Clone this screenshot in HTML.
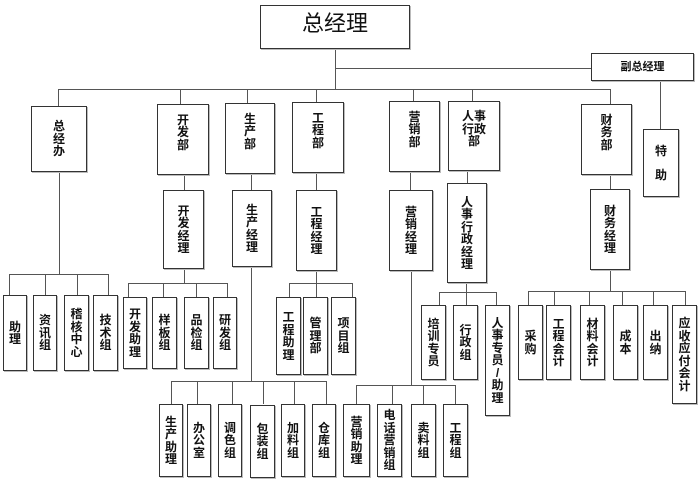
<!DOCTYPE html>
<html><head><meta charset="utf-8"><style>
body{margin:0;width:700px;height:485px;background:#fff;position:relative;overflow:hidden;font-family:"Liberation Sans","Noto Sans CJK SC",sans-serif}
.b{position:absolute;box-sizing:border-box;border:1.5px solid #333;background:#fff;display:flex;flex-direction:column;align-items:center;justify-content:center;font-weight:bold;font-size:12px;line-height:12.5px;color:#111;text-align:center;box-shadow:1px 1px 0 #bbb}
.d{padding-bottom:14px}
.h{position:absolute;height:0;border-top:1.5px solid #555}
.v{position:absolute;width:0;border-left:1.5px solid #555}
</style></head><body>
<!-- lines -->
<div class="v" style="left:335px;top:48px;height:41px"></div>
<div class="h" style="left:335px;top:68px;width:256px"></div>
<div class="h" style="left:58px;top:89px;width:553px"></div>
<div class="v" style="left:660px;top:80px;height:49px"></div>
<div class="v" style="left:58px;top:89px;height:17px"></div>
<div class="v" style="left:180px;top:89px;height:15px"></div>
<div class="v" style="left:247px;top:89px;height:14px"></div>
<div class="v" style="left:316px;top:89px;height:13px"></div>
<div class="v" style="left:413px;top:89px;height:12px"></div>
<div class="v" style="left:472px;top:89px;height:12px"></div>
<div class="v" style="left:610px;top:89px;height:15px"></div>
<div class="v" style="left:184px;top:174px;height:16px"></div>
<div class="v" style="left:251px;top:173px;height:17px"></div>
<div class="v" style="left:316px;top:172px;height:18px"></div>
<div class="v" style="left:410px;top:171px;height:19px"></div>
<div class="v" style="left:467px;top:170px;height:13px"></div>
<div class="v" style="left:610px;top:174px;height:15px"></div>
<!-- 总经办 -->
<div class="v" style="left:59px;top:171px;height:103px"></div>
<div class="h" style="left:9px;top:274px;width:99px"></div>
<div class="v" style="left:9px;top:274px;height:21px"></div>
<div class="v" style="left:45px;top:274px;height:21px"></div>
<div class="v" style="left:77px;top:274px;height:21px"></div>
<div class="v" style="left:108px;top:274px;height:21px"></div>
<!-- 开发 -->
<div class="v" style="left:184px;top:268px;height:15px"></div>
<div class="h" style="left:128px;top:283px;width:99px"></div>
<div class="v" style="left:128px;top:283px;height:14px"></div>
<div class="v" style="left:163px;top:283px;height:14px"></div>
<div class="v" style="left:196px;top:283px;height:14px"></div>
<div class="v" style="left:227px;top:283px;height:14px"></div>
<!-- 生产 -->
<div class="v" style="left:251px;top:266px;height:115px"></div>
<div class="h" style="left:171px;top:381px;width:155px"></div>
<div class="v" style="left:171px;top:381px;height:23px"></div>
<div class="v" style="left:197px;top:381px;height:23px"></div>
<div class="v" style="left:232px;top:381px;height:23px"></div>
<div class="v" style="left:263px;top:381px;height:23px"></div>
<div class="v" style="left:294px;top:381px;height:23px"></div>
<div class="v" style="left:326px;top:381px;height:23px"></div>
<!-- 工程 -->
<div class="v" style="left:316px;top:270px;height:13px"></div>
<div class="h" style="left:289px;top:283px;width:63px"></div>
<div class="v" style="left:289px;top:283px;height:14px"></div>
<div class="v" style="left:316px;top:283px;height:14px"></div>
<div class="v" style="left:352px;top:283px;height:14px"></div>
<!-- 营销 -->
<div class="v" style="left:411px;top:270px;height:115px"></div>
<div class="h" style="left:356px;top:385px;width:99px"></div>
<div class="v" style="left:356px;top:385px;height:19px"></div>
<div class="v" style="left:392px;top:385px;height:19px"></div>
<div class="v" style="left:423px;top:385px;height:19px"></div>
<div class="v" style="left:455px;top:385px;height:19px"></div>
<!-- 人事 -->
<div class="v" style="left:466px;top:282px;height:10px"></div>
<div class="h" style="left:439px;top:292px;width:57px"></div>
<div class="v" style="left:439px;top:292px;height:13px"></div>
<div class="v" style="left:466px;top:292px;height:13px"></div>
<div class="v" style="left:496px;top:292px;height:13px"></div>
<!-- 财务 -->
<div class="v" style="left:610px;top:269px;height:22px"></div>
<div class="h" style="left:528px;top:291px;width:157px"></div>
<div class="v" style="left:528px;top:291px;height:14px"></div>
<div class="v" style="left:554px;top:291px;height:14px"></div>
<div class="v" style="left:589px;top:291px;height:14px"></div>
<div class="v" style="left:622px;top:291px;height:14px"></div>
<div class="v" style="left:653px;top:291px;height:14px"></div>
<div class="v" style="left:685px;top:291px;height:14px"></div>

<!-- boxes -->
<div class="b" style="left:260px;top:5px;width:150px;height:44px;font-weight:normal;font-size:22px;line-height:24px;padding-bottom:6px">总经理</div>
<div class="b" style="left:591px;top:53px;width:103px;height:28px;font-size:11px">副总经理</div>
<div class="b" style="left:643px;top:129px;width:36px;height:68px;line-height:24px">特<br>助</div>

<div class="b" style="left:31px;top:106px;width:56px;height:66px">总<br>经<br>办</div>
<div class="b d" style="left:157px;top:104px;width:52px;height:71px">开<br>发<br>部</div>
<div class="b d" style="left:225px;top:103px;width:50px;height:71px">生<br>产<br>部</div>
<div class="b d" style="left:292px;top:102px;width:52px;height:71px">工<br>程<br>部</div>
<div class="b d" style="left:389px;top:101px;width:51px;height:71px">营<br>销<br>部</div>
<div class="b d" style="left:448px;top:101px;width:52px;height:70px">人事<br>行政<br>部</div>
<div class="b d" style="left:581px;top:104px;width:51px;height:71px">财<br>务<br>部</div>

<div class="b" style="left:163px;top:190px;width:41px;height:79px">开<br>发<br>经<br>理</div>
<div class="b" style="left:232px;top:190px;width:40px;height:77px">生<br>产<br>经<br>理</div>
<div class="b" style="left:296px;top:190px;width:41px;height:81px">工<br>程<br>经<br>理</div>
<div class="b" style="left:389px;top:190px;width:44px;height:81px">营<br>销<br>经<br>理</div>
<div class="b" style="left:447px;top:183px;width:40px;height:100px">人<br>事<br>行<br>政<br>经<br>理</div>
<div class="b" style="left:590px;top:189px;width:40px;height:81px">财<br>务<br>经<br>理</div>

<div class="b" style="left:3px;top:295px;width:24px;height:76px">助<br>理</div>
<div class="b" style="left:33px;top:295px;width:24px;height:76px">资<br>讯<br>组</div>
<div class="b" style="left:64px;top:295px;width:25px;height:76px">稽<br>核<br>中<br>心</div>
<div class="b" style="left:93px;top:295px;width:25px;height:76px">技<br>术<br>组</div>

<div class="b" style="left:123px;top:297px;width:24px;height:72px">开<br>发<br>助<br>理</div>
<div class="b" style="left:152px;top:297px;width:25px;height:72px">样<br>板<br>组</div>
<div class="b" style="left:184px;top:297px;width:25px;height:72px">品<br>检<br>组</div>
<div class="b" style="left:213px;top:297px;width:24px;height:72px">研<br>发<br>组</div>

<div class="b" style="left:276px;top:297px;width:25px;height:78px">工<br>程<br>助<br>理</div>
<div class="b" style="left:303px;top:297px;width:25px;height:78px">管<br>理<br>部</div>
<div class="b" style="left:331px;top:297px;width:25px;height:78px">项<br>目<br>组</div>

<div class="b" style="left:159px;top:404px;width:24px;height:73px">生<br>产<br>助<br>理</div>
<div class="b" style="left:187px;top:404px;width:24px;height:73px">办<br>公<br>室</div>
<div class="b" style="left:218px;top:404px;width:24px;height:73px">调<br>色<br>组</div>
<div class="b" style="left:250px;top:405px;width:25px;height:73px">包<br>装<br>组</div>
<div class="b" style="left:281px;top:404px;width:24px;height:73px">加<br>料<br>组</div>
<div class="b" style="left:312px;top:404px;width:24px;height:73px">仓<br>库<br>组</div>

<div class="b" style="left:343px;top:404px;width:27px;height:73px">营<br>销<br>助<br>理</div>
<div class="b" style="left:377px;top:404px;width:25px;height:73px">电<br>话<br>营<br>销<br>组</div>
<div class="b" style="left:411px;top:404px;width:25px;height:73px">卖<br>料<br>组</div>
<div class="b" style="left:443px;top:404px;width:25px;height:73px">工<br>程<br>组</div>

<div class="b" style="left:421px;top:305px;width:25px;height:75px">培<br>训<br>专<br>员</div>
<div class="b" style="left:453px;top:305px;width:25px;height:75px">行<br>政<br>组</div>
<div class="b" style="left:485px;top:305px;width:25px;height:111px">人<br>事<br>专<br>员<br>/<br>助<br>理</div>

<div class="b" style="left:518px;top:305px;width:25px;height:75px">采<br>购</div>
<div class="b" style="left:546px;top:305px;width:25px;height:75px">工<br>程<br>会<br>计</div>
<div class="b" style="left:580px;top:305px;width:25px;height:75px">材<br>料<br>会<br>计</div>
<div class="b" style="left:613px;top:305px;width:25px;height:75px">成<br>本</div>
<div class="b" style="left:643px;top:305px;width:25px;height:75px">出<br>纳</div>
<div class="b" style="left:672px;top:305px;width:25px;height:99px">应<br>收<br>应<br>付<br>会<br>计</div>
</body></html>
